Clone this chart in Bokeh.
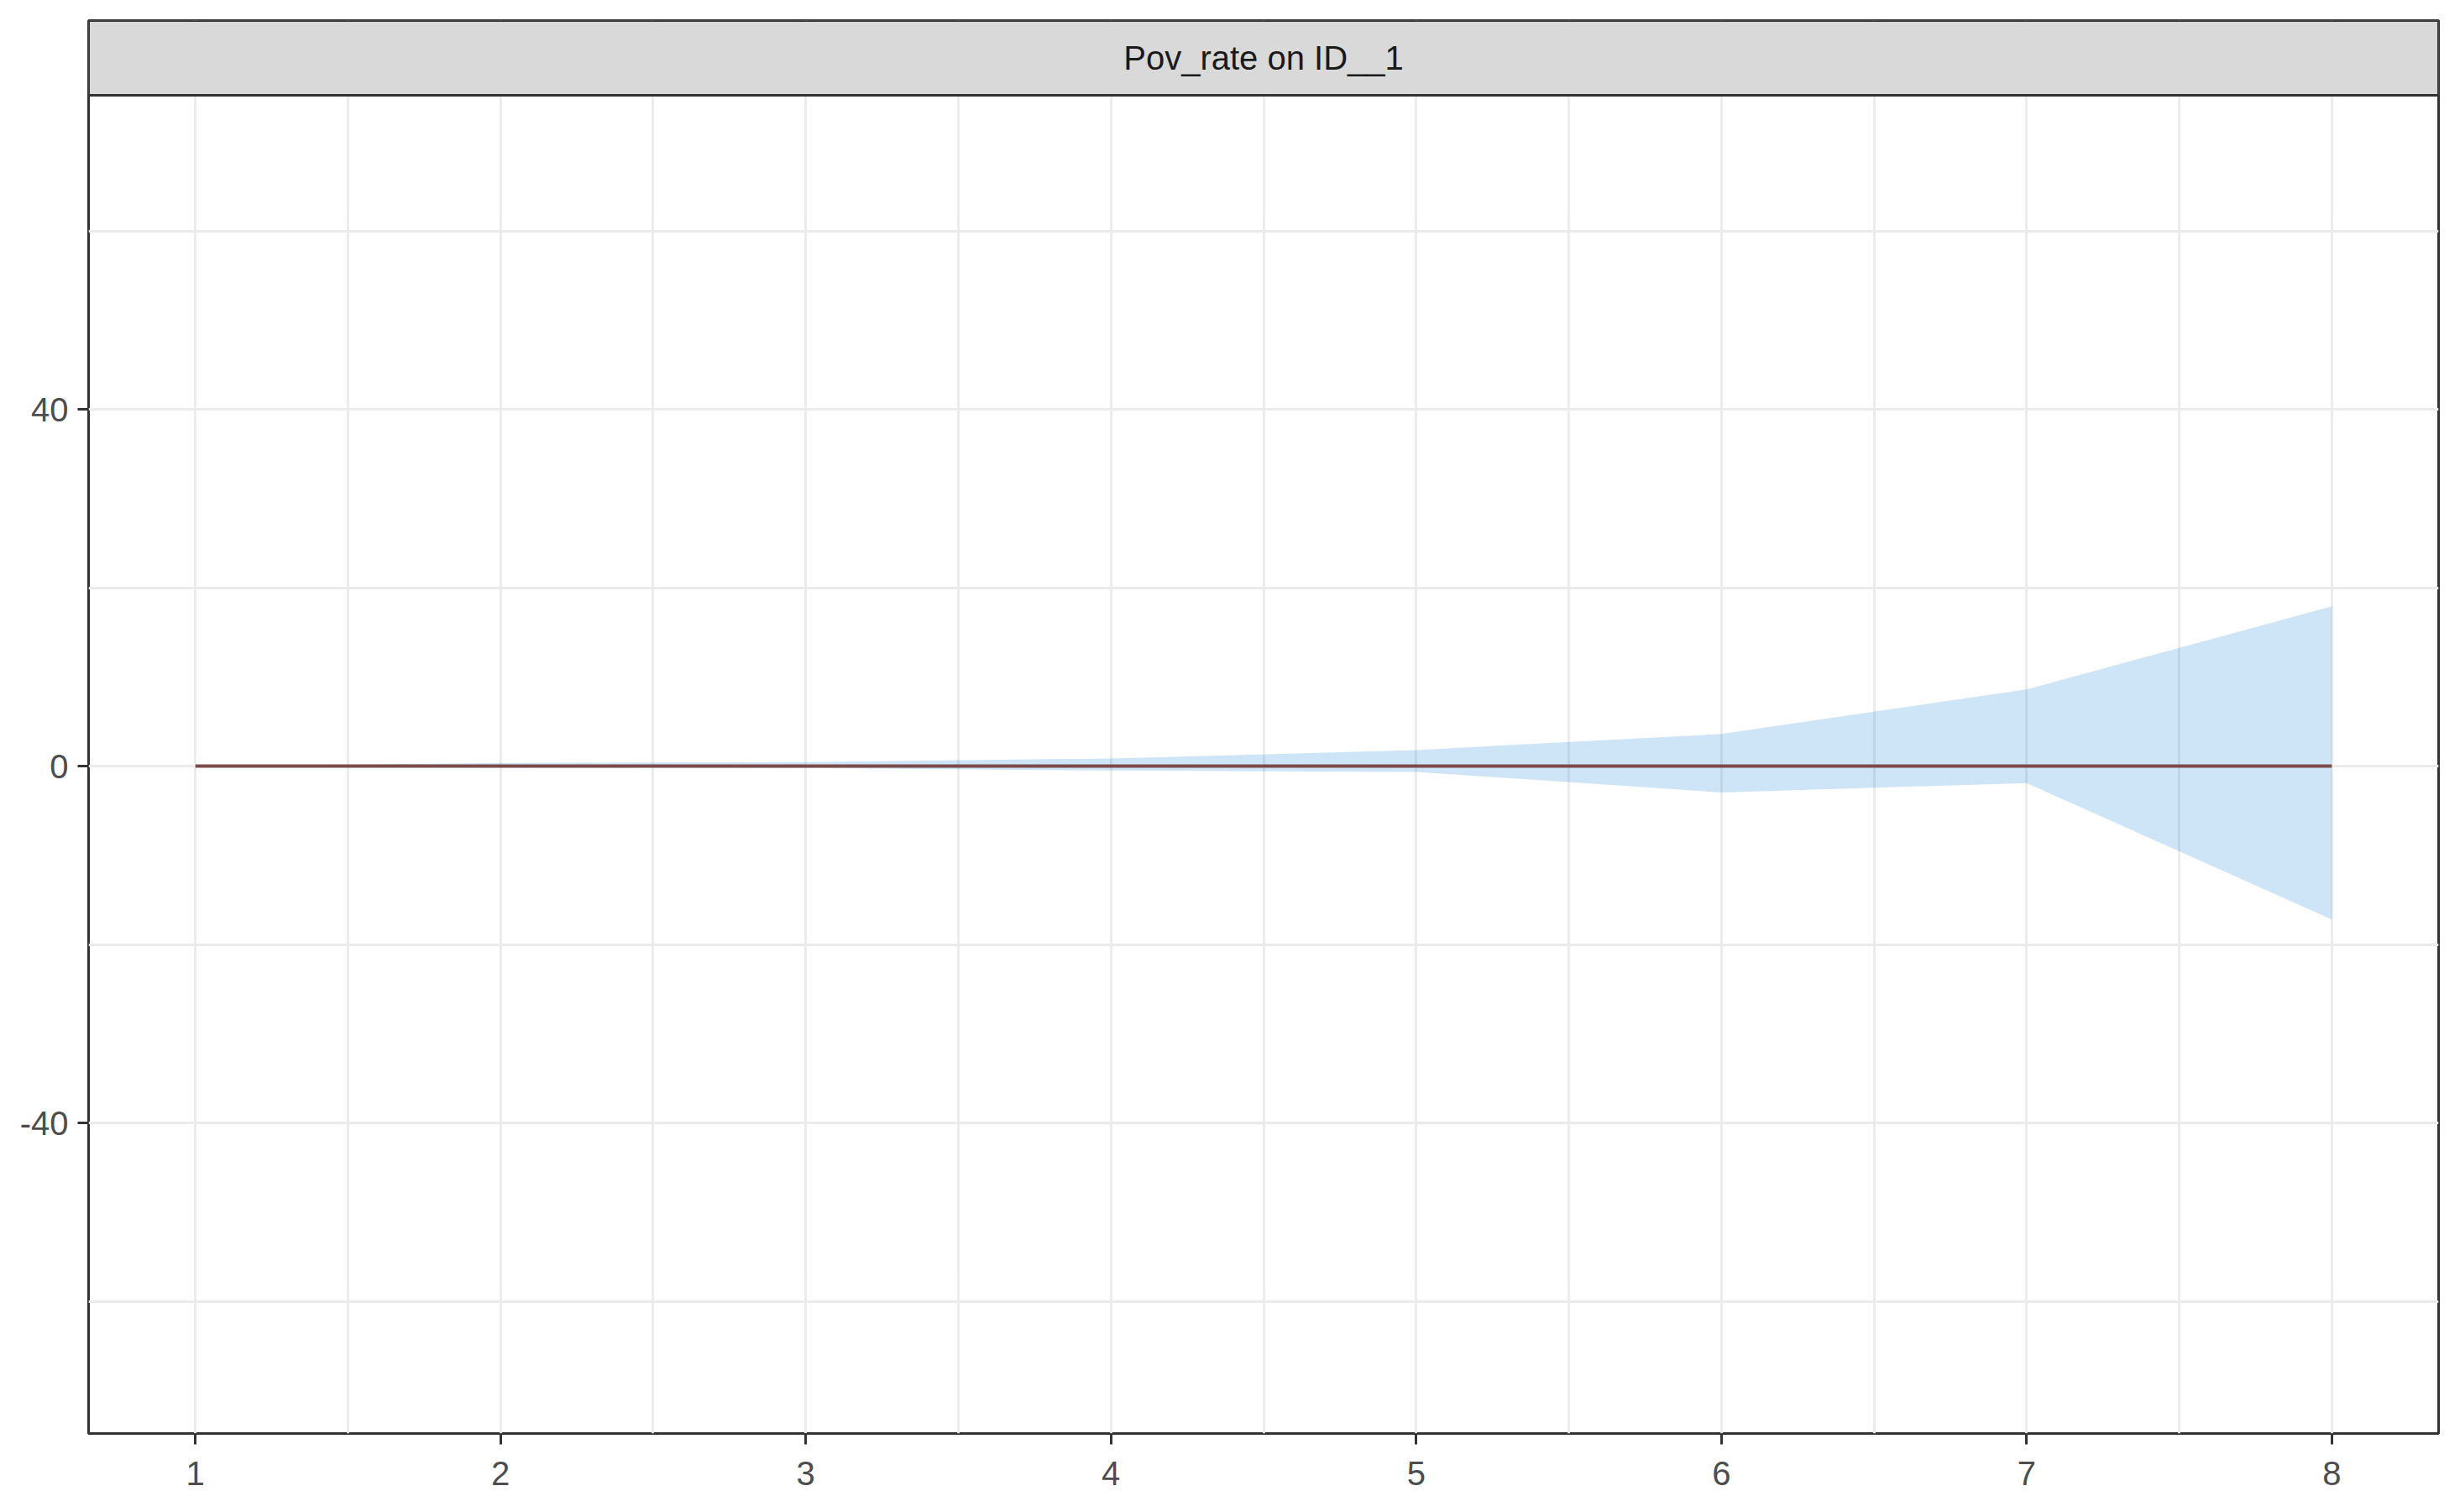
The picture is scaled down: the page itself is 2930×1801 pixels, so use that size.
from bokeh.plotting import figure
from bokeh.models import Range1d, FixedTicker, BoxAnnotation, Label, ColumnDataSource
from bokeh.embed import file_html
from bokeh.resources import INLINE

# ---- data ----
horizon = [1, 2, 3, 4, 5, 6, 7, 8]
irf = [0, 0, 0, 0, 0, 0, 0, 0]
lower = [0, -0.15, -0.2, -0.5, -0.65, -2.95, -1.9, -17.2]
upper = [0, 0.35, 0.45, 0.85, 1.8, 3.6, 8.6, 17.9]
x_ticks = [1, 2, 3, 4, 5, 6, 7, 8]
x_minor = [1.5, 2.5, 3.5, 4.5, 5.5, 6.5, 7.5]
y_ticks = [-40, 0, 40]
y_minor = [-60, -20, 20, 60]
y_tick_labels = ["-40", "0", "40"]
strip_title = "Pov_rate on ID__1"

# ---- layout constants ----
X_LIM = (0.65, 8.35)
PANEL_Y = (-74.82, 75.2)
STRIP_TOP = 83.58
FONT = "Liberation Sans"

p = figure(width=2914, height=1785, output_backend="svg", toolbar_location=None,
           x_range=Range1d(*X_LIM), y_range=Range1d(PANEL_Y[0], STRIP_TOP),
           min_border_left=105, min_border_right=10, min_border_top=24, min_border_bottom=78)

p.background_fill_color = "white"
p.border_fill_color = "white"
p.outline_line_color = "#333333"
p.outline_line_width = 3

for ax, ticks, minor in ((p.xaxis[0], x_ticks, x_minor), (p.yaxis[0], y_ticks, y_minor)):
    ax.ticker = FixedTicker(ticks=ticks, minor_ticks=minor)
    ax.axis_line_color = None
    ax.major_tick_line_color = "#333333"
    ax.major_tick_line_width = 3
    ax.major_tick_out = 13
    ax.major_tick_in = 0
    ax.minor_tick_line_color = None
    ax.major_label_text_font = FONT
    ax.major_label_text_font_size = "40px"
    ax.major_label_text_color = "#4D4D4D"
p.yaxis[0].major_label_overrides = {t: s for t, s in zip(y_ticks, y_tick_labels)}
p.xaxis[0].major_label_standoff = 20
p.yaxis[0].major_label_standoff = 11

for g in (p.xgrid[0], p.ygrid[0]):
    g.grid_line_color = "#EBEBEB"
    g.grid_line_width = 2.8
    g.minor_grid_line_color = "#EBEBEB"
    g.minor_grid_line_width = 2.8

src = ColumnDataSource(dict(h=horizon, irf=irf, lo=lower, up=upper))
p.varea(x="h", y1="lo", y2="up", source=src, fill_color="#0A78D7", fill_alpha=0.2)
p.line(x="h", y="irf", source=src, line_color="#7D4A4A", line_width=4)

strip = BoxAnnotation(bottom=PANEL_Y[1], fill_color="#D9D9D9", fill_alpha=1.0,
                      line_color="#333333", line_width=3, line_alpha=1.0)
p.add_layout(strip)
p.add_layout(Label(x=(X_LIM[0] + X_LIM[1]) / 2, y=(PANEL_Y[1] + STRIP_TOP) / 2, text=strip_title,
                   text_align="center", text_baseline="middle", text_font=FONT,
                   text_font_size="40px", text_color="#1A1A1A"))

open("out.html", "w").write(file_html(p, INLINE))
